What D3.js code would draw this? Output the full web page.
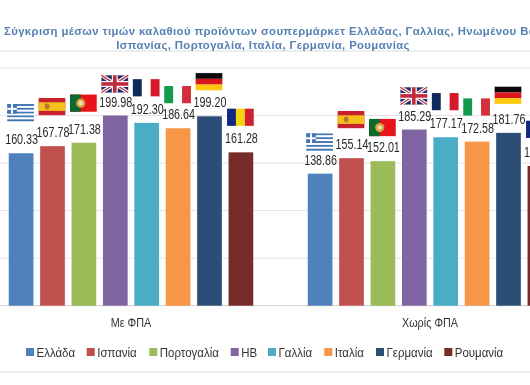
<!DOCTYPE html>
<html><head><meta charset="utf-8">
<script src="https://cdnjs.cloudflare.com/ajax/libs/d3/7.8.5/d3.min.js"></script>
<style>html,body{margin:0;padding:0;background:#fff;overflow:hidden}svg{display:block;filter:blur(0.3px)}</style>
</head><body><div id="c"></div>
<script>
const titleLines = ["Σύγκριση μέσων τιμών καλαθιού προϊόντων σουπερμάρκετ Ελλάδας, Γαλλίας, Ηνωμένου Βασιλείου,", "Ισπανίας, Πορτογαλία, Ιταλία, Γερμανία, Ρουμανίας"];
const groups = ["Με ΦΠΑ", "Χωρίς ΦΠΑ"];
const countries = ["Ελλάδα", "Ισπανία", "Πορτογαλία", "ΗΒ", "Γαλλία", "Ιταλία", "Γερμανία", "Ρουμανία"];
const withVat = [160.33, 167.78, 171.38, 199.98, 192.30, 186.64, 199.20, 161.28];
const withoutVat = [138.86, 155.14, 152.01, 185.29, 177.17, 172.58, 181.76, 147.00];
const colors = ["#4f81bd", "#c0504d", "#9bbb59", "#8064a2", "#4bacc6", "#f79646", "#2c4d75", "#772c2a"];
const yTicks = [0, 50, 100, 150, 200, 250];
const flagCodes = ["gr", "es", "pt", "uk", "fr", "it", "de", "ro"];
// how far each flag's lower edge floats above its bar, in px
const flagLiftVat = [32, 31, 31, 23, 26.5, 25, 26, 26.5];
const flagLiftNoVat = [23, 30, 25, 25, 27, 26, 29, 28];

const W = 530, H = 385;
const svg = d3.select("#c").append("svg").attr("width", W).attr("height", H);
const y = d3.scaleLinear().domain([0, 250]).range([305.7, 68]);
const x0 = d3.scaleBand().domain(groups).range([-18.5, 579.5]);
const barW = 24.7, step = 31.4;
const barX = (g, i) => x0(g) + x0.bandwidth() / 2 - (step * 8 - (step - barW)) / 2 + i * step;
const SANS = "'Liberation Sans',Arial,sans-serif";

// text squeezed horizontally, as the reference's narrow lettering is
function narrow(parent, x, yy, str, size, sx, anchor, fill) {
  return parent.append("text")
    .attr("transform", `translate(${x},${yy}) scale(${sx},1)`)
    .attr("text-anchor", anchor).attr("font-family", SANS)
    .attr("font-size", size).attr("fill", fill).text(str);
}

[51, 372].forEach(v => svg.append("line").attr("x1", 0).attr("x2", W).attr("y1", v).attr("y2", v).attr("stroke", "#dcdcdc").attr("stroke-width", 1));

svg.append("g").selectAll("line").data(yTicks).join("line")
  .attr("x1", 0).attr("x2", W).attr("y1", d => y(d)).attr("y2", d => y(d))
  .attr("stroke", d => d === 0 ? "#d0d0d0" : "#e3e3e3").attr("stroke-width", 1);

const tc = svg.append("g").attr("font-family", SANS).attr("font-weight", "bold").attr("fill", "#5580b2").attr("font-size", 11.3).attr("letter-spacing", 0.4);
tc.append("text").attr("x", 4).attr("y", 34.7).text(titleLines[0]);
tc.append("text").attr("x", 263).attr("y", 48.5).attr("text-anchor", "middle").text(titleLines[1]);

function flag(g, code) {
  const w = 26.7, h = 17.2;
  const r = (x, yy, ww, hh, f) => g.append("rect").attr("x", x).attr("y", yy).attr("width", ww).attr("height", hh).attr("fill", f);
  if (code === "gr") {
    for (let i = 0; i < 9; i++) r(0, i * h / 9, w, h / 9, i % 2 ? "#fff" : "#3f74b5");
    r(0, 0, h * 5 / 9, h * 5 / 9, "#3f74b5");
    r(0, h * 2 / 9, h * 5 / 9, h / 9, "#fff");
    r(h * 2 / 9, 0, h / 9, h * 5 / 9, "#fff");
  } else if (code === "es") {
    r(0, 0, w, h, "#c8202c"); r(0, h / 4, w, h / 2, "#f4c01e");
    g.append("ellipse").attr("cx", 8.5).attr("cy", h / 2).attr("rx", 2.4).attr("ry", 3).attr("fill", "#c0762a");
  } else if (code === "pt") {
    r(0, 0, w, h, "#e8141c"); r(0, 0, w * 0.4, h, "#0b6a2e");
    g.append("circle").attr("cx", w * 0.4).attr("cy", h / 2).attr("r", 4.6).attr("fill", "#e0a030");
    g.append("circle").attr("cx", w * 0.4).attr("cy", h / 2).attr("r", 2.3).attr("fill", "#e8e0d0");
  } else if (code === "uk") {
    r(0, 0, w, h, "#1c2c66");
    [[0, 0, w, h], [0, h, w, 0]].forEach(l => {
      g.append("line").attr("x1", l[0]).attr("y1", l[1]).attr("x2", l[2]).attr("y2", l[3]).attr("stroke", "#fff").attr("stroke-width", 3.6);
      g.append("line").attr("x1", l[0]).attr("y1", l[1]).attr("x2", l[2]).attr("y2", l[3]).attr("stroke", "#c4283c").attr("stroke-width", 1.3);
    });
    r(w / 2 - 3, 0, 6, h, "#fff"); r(0, h / 2 - 3, w, 6, "#fff");
    r(w / 2 - 1.8, 0, 3.6, h, "#c4283c"); r(0, h / 2 - 1.8, w, 3.6, "#c4283c");
  } else if (code === "fr") {
    r(0, 0, w / 3, h, "#102a5e"); r(w * 2 / 3, 0, w / 3, h, "#d7182a");
  } else if (code === "it") {
    r(0, 0, w / 3, h, "#149a4c"); r(w * 2 / 3, 0, w / 3, h, "#d3303c");
  } else if (code === "de") {
    r(0, 0, w, h / 3, "#0a0a0a"); r(0, h / 3, w, h / 3, "#d8161c"); r(0, h * 2 / 3, w, h / 3, "#fbc80e");
  } else if (code === "ro") {
    r(0, 0, w / 3, h, "#10297c"); r(w / 3, 0, w / 3, h, "#f6d30f"); r(w * 2 / 3, 0, w / 3, h, "#ce2230");
  }
}

[[groups[0], withVat, flagLiftVat], [groups[1], withoutVat, flagLiftNoVat]].forEach(([gname, vals, lifts]) => {
  const g = svg.append("g");
  g.selectAll("rect.bar").data(vals).join("rect").attr("class", "bar")
    .attr("x", (d, i) => barX(gname, i)).attr("width", barW)
    .attr("y", d => y(d)).attr("height", d => y(0) - y(d))
    .attr("fill", (d, i) => colors[i]);
  vals.forEach((d, i) => {
    narrow(g, barX(gname, i) + barW / 2 + 0.5, y(d) - 9, d.toFixed(2), 13.8, 0.78, "middle", "#2a2a2a");
    const fg = svg.append("g").attr("transform", `translate(${barX(gname, i) - 1.5},${y(d) - lifts[i] - 17.2})`);
    flag(fg, flagCodes[i]);
  });
  narrow(svg, x0(gname) + x0.bandwidth() / 2, 327, gname, 13.2, 0.82, "middle", "#333");
});

const legendX = [26, 86.7, 149.3, 230.7, 268, 324.3, 376, 444.3];
const lg = svg.append("g");
countries.forEach((c, i) => {
  const it = lg.append("g").attr("transform", `translate(${legendX[i]},352)`);
  it.append("rect").attr("y", -4).attr("width", 8).attr("height", 8).attr("fill", colors[i]);
  narrow(it, 10.5, 4.8, c, 13.5, 0.85, "start", "#333");
});
</script></body></html>
